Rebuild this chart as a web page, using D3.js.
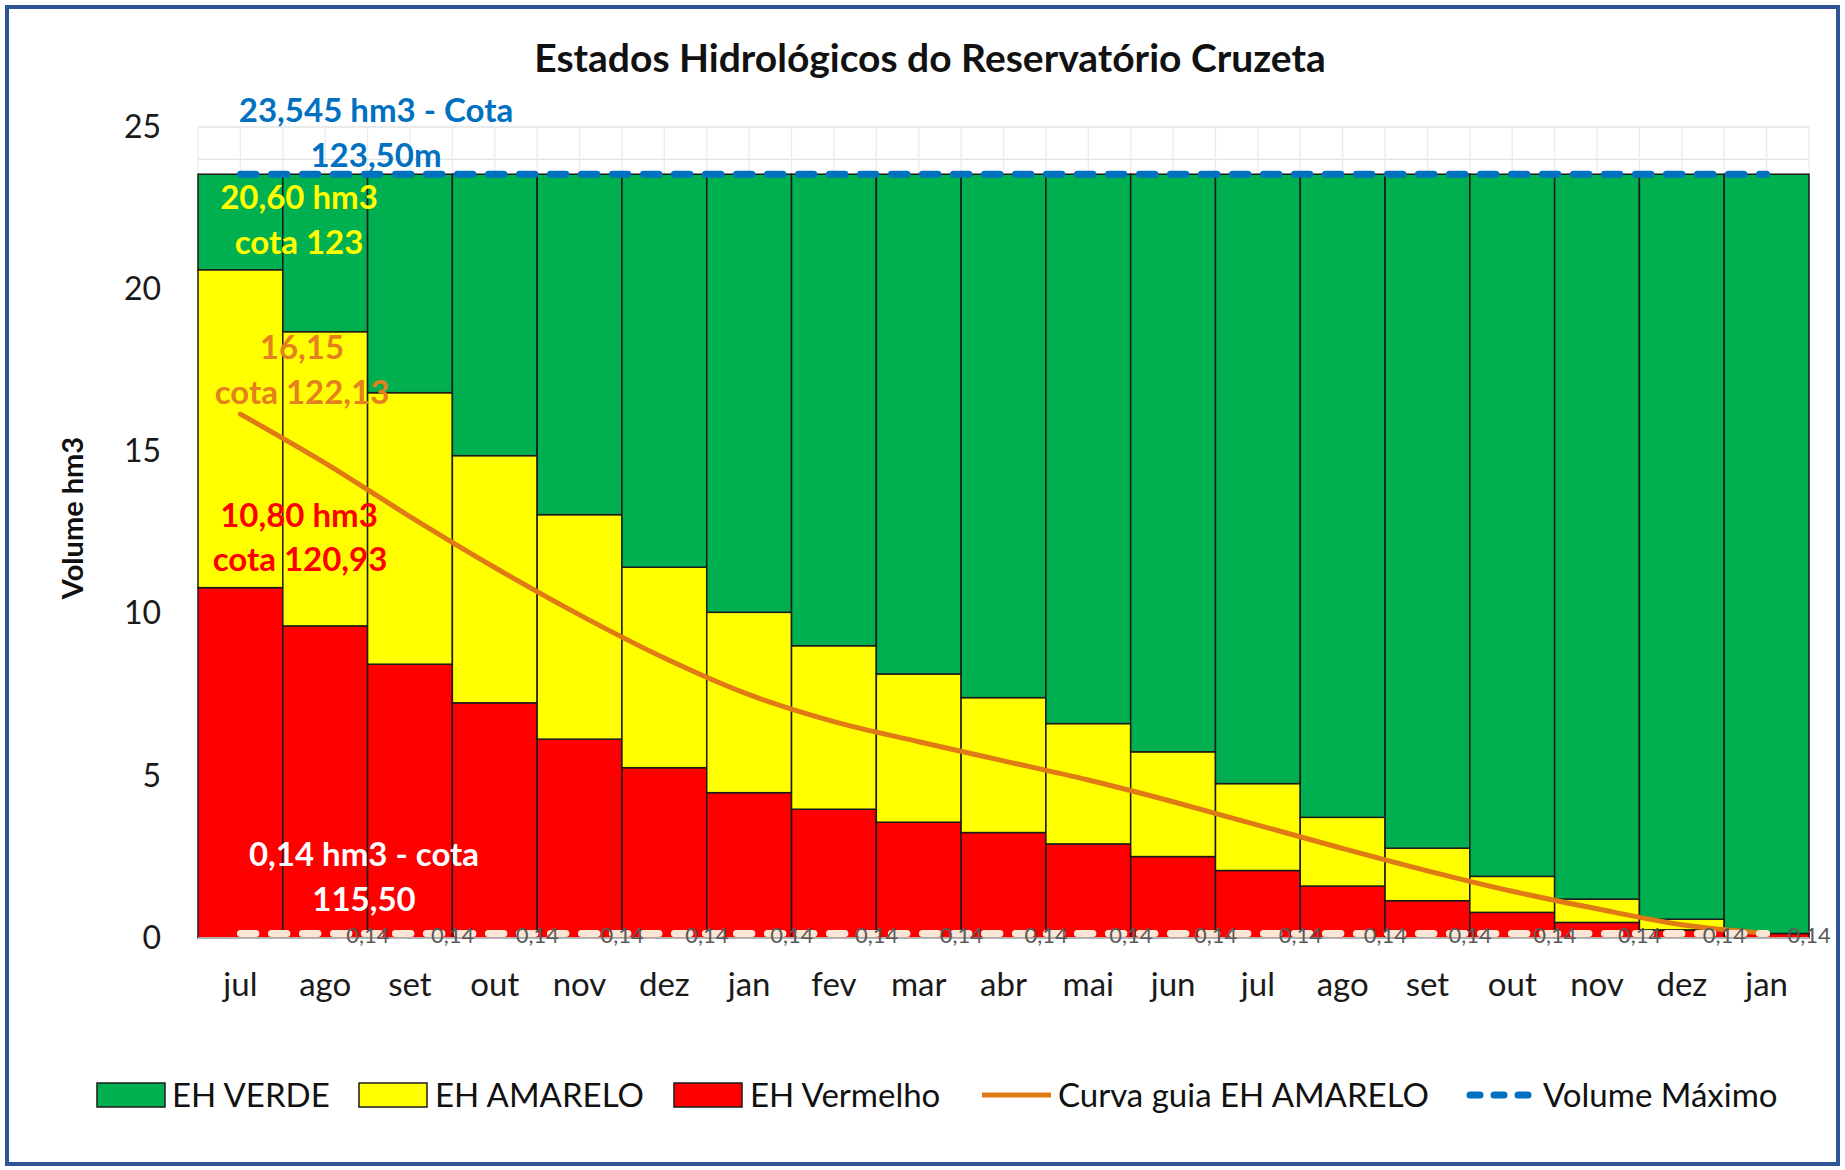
<!DOCTYPE html>
<html>
<head>
<meta charset="utf-8">
<script src="https://cdnjs.cloudflare.com/ajax/libs/d3/7.8.5/d3.min.js"></script>
<style>
  body { margin: 0; background: #fff; }
  svg { display: block; font-family: Lato, "Open Sans", sans-serif; }
</style>
</head>
<body>
<div class="chart"></div>
<script>
// meses do período
var meses = ["jul", "ago", "set", "out", "nov", "dez", "jan", "fev", "mar", "abr",
             "mai", "jun", "jul", "ago", "set", "out", "nov", "dez", "jan"];

// limites dos estados hidrológicos (hm3)
var volumeMaximo = [23.545, 23.545, 23.545, 23.545, 23.545, 23.545, 23.545, 23.545, 23.545, 23.545,
                    23.545, 23.545, 23.545, 23.545, 23.545, 23.545, 23.545, 23.545, 23.545];
var limiteAmarelo = [20.60, 18.69, 16.81, 14.87, 13.05, 11.43, 10.04, 9.01, 8.14, 7.41,
                     6.61, 5.74, 4.76, 3.72, 2.77, 1.90, 1.20, 0.58, 0.14];
var limiteVermelho = [10.80, 9.62, 8.44, 7.25, 6.13, 5.25, 4.48, 3.97, 3.57, 3.25,
                      2.90, 2.51, 2.08, 1.60, 1.15, 0.79, 0.48, 0.25, 0.14];
var curvaGuia = [16.15, 14.64, 12.99, 11.42, 9.96, 8.63, 7.50, 6.67, 6.05, 5.46,
                 4.87, 4.20, 3.48, 2.76, 2.07, 1.44, 0.90, 0.41, 0.14];
var volumeMinimo = [0.14, 0.14, 0.14, 0.14, 0.14, 0.14, 0.14, 0.14, 0.14, 0.14,
                    0.14, 0.14, 0.14, 0.14, 0.14, 0.14, 0.14, 0.14, 0.14];
var yTicks = [0, 5, 10, 15, 20, 25];
var gridTicks = d3.range(0, 26, 1);

var width = 1845, height = 1170;
var plot = { left: 198, right: 1809, top: 127, bottom: 938 };

var svg = d3.select(".chart")
    .append("svg")
    .attr("width", width)
    .attr("height", height);

// borda externa
svg.append("rect")
    .attr("x", 7).attr("y", 7)
    .attr("width", 1831).attr("height", 1157)
    .attr("fill", "#fff")
    .attr("stroke", "#2F5597")
    .attr("stroke-width", 4);

var idx = d3.range(meses.length);

var x = d3.scaleBand()
    .domain(idx)
    .range([plot.left, plot.right])
    .padding(0);

var y = d3.scaleLinear()
    .domain([0, 25])
    .range([plot.bottom, plot.top]);

var cx = function(i) { return x(i) + x.bandwidth() / 2; };

// grade
svg.append("g")
    .selectAll("line")
    .data(gridTicks)
    .enter().append("line")
    .attr("x1", plot.left).attr("x2", plot.right)
    .attr("y1", function(d) { return y(d); })
    .attr("y2", function(d) { return y(d); })
    .attr("stroke", "#E3E3E3")
    .attr("stroke-width", 1.3);

svg.append("g")
    .selectAll("line")
    .data(d3.range(meses.length * 2 + 1))
    .enter().append("line")
    .attr("x1", function(d) { return plot.left + d * x.bandwidth() / 2; })
    .attr("x2", function(d) { return plot.left + d * x.bandwidth() / 2; })
    .attr("y1", y(25)).attr("y2", y(0))
    .attr("stroke", "#EBEBEB")
    .attr("stroke-width", 1.3);

// barras empilhadas
var tabela = idx.map(function(i) {
  return {
    i: i,
    vermelho: limiteVermelho[i],
    amarelo: limiteAmarelo[i] - limiteVermelho[i],
    verde: volumeMaximo[i] - limiteAmarelo[i]
  };
});
var cores = { vermelho: "#FF0000", amarelo: "#FFFF00", verde: "#00B050" };
var stack = d3.stack().keys(["vermelho", "amarelo", "verde"]);

svg.append("g")
    .selectAll("g")
    .data(stack(tabela))
    .enter().append("g")
    .attr("fill", function(s) { return cores[s.key]; })
    .selectAll("rect")
    .data(function(s) { return s; })
    .enter().append("rect")
    .attr("x", function(d) { return x(d.data.i); })
    .attr("width", x.bandwidth())
    .attr("y", function(d) { return y(d[1]); })
    .attr("height", function(d) { return y(d[0]) - y(d[1]); })
    .attr("stroke", "#1b1b1b")
    .attr("stroke-width", 1.5);

// eixo x (linha)
svg.append("line")
    .attr("x1", plot.left).attr("x2", plot.right)
    .attr("y1", y(0)).attr("y2", y(0))
    .attr("stroke", "#D9D9D9")
    .attr("stroke-width", 1.5);

// curva guia
var linha = d3.line()
    .x(function(d, i) { return cx(i); })
    .y(function(d) { return y(d); })
    .curve(d3.curveCatmullRom.alpha(0.5));

svg.append("path")
    .datum(curvaGuia)
    .attr("d", linha)
    .attr("fill", "none")
    .attr("stroke", "#DF7A14")
    .attr("stroke-width", 5)
    .attr("stroke-linecap", "round");

var linhaReta = d3.line()
    .x(function(d, i) { return cx(i); })
    .y(function(d) { return y(d); });

// volume minimo
svg.append("path")
    .datum(volumeMinimo)
    .attr("d", linhaReta)
    .attr("fill", "none")
    .attr("stroke", "#FBE6D5")
    .attr("stroke-width", 7)
    .attr("stroke-linecap", "round")
    .attr("stroke-dasharray", "15.5 15.5");

// volume maximo
svg.append("path")
    .datum(volumeMaximo)
    .attr("d", linhaReta)
    .attr("fill", "none")
    .attr("stroke", "#0070C0")
    .attr("stroke-width", 7)
    .attr("stroke-linecap", "round")
    .attr("stroke-dasharray", "15.5 15.5");

// rotulos 0,14
svg.append("g")
    .selectAll("text")
    .data(volumeMinimo.slice(1))
    .enter().append("text")
    .attr("x", function(d, i) { return cx(i + 1) + 21; })
    .attr("y", function(d) { return y(d) + 2; })
    .attr("dy", "0.36em")
    .attr("font-size", 22)
    .attr("fill", "#595959")
    .text(function(d) { return d3.format(".2f")(d).replace(".", ","); });

// eixos
var yAxis = svg.append("g")
    .attr("transform", "translate(" + plot.left + ",0)")
    .call(d3.axisLeft(y).tickValues(yTicks).tickSize(0).tickPadding(37));
yAxis.select(".domain").remove();
yAxis.selectAll("text")
    .attr("font-family", "Lato, sans-serif")
    .attr("font-size", 32)
    .attr("fill", "#1a1a1a");

var xAxis = svg.append("g")
    .attr("transform", "translate(0," + plot.bottom + ")")
    .call(d3.axisBottom(x).tickFormat(function(i) { return meses[i]; }).tickSize(0));
xAxis.select(".domain").remove();
xAxis.selectAll("text")
    .attr("y", 50)
    .attr("dy", null)
    .attr("dominant-baseline", "middle")
    .attr("font-family", "Lato, sans-serif")
    .attr("font-size", 33)
    .attr("fill", "#1a1a1a");

// titulo
svg.append("text")
    .attr("x", 930).attr("y", 58)
    .attr("dy", "0.36em")
    .attr("text-anchor", "middle")
    .attr("font-size", 39)
    .attr("font-weight", "bold")
    .attr("fill", "#111")
    .text("Estados Hidrológicos do Reservatório Cruzeta");

svg.append("text")
    .attr("transform", "translate(73,518) rotate(-90)")
    .attr("dy", "0.36em")
    .attr("text-anchor", "middle")
    .attr("font-size", 29)
    .attr("font-weight", "bold")
    .attr("fill", "#111")
    .text("Volume hm3");

// anotacoes
var notas = [
  { t: "23,545 hm3 - Cota", x: 376, y: 110, c: "#0070C0" },
  { t: "123,50m", x: 376, y: 155, c: "#0070C0" },
  { t: "20,60 hm3", x: 299, y: 197, c: "#FFFF00" },
  { t: "cota 123", x: 299, y: 242, c: "#FFFF00" },
  { t: "16,15", x: 302, y: 347, c: "#E5801E" },
  { t: "cota 122,13", x: 302, y: 392, c: "#E5801E" },
  { t: "10,80 hm3", x: 299, y: 515, c: "#FF0000" },
  { t: "cota 120,93", x: 300, y: 559, c: "#FF0000" },
  { t: "0,14 hm3 - cota", x: 364, y: 854, c: "#FFFFFF" },
  { t: "115,50", x: 364, y: 899, c: "#FFFFFF" }
];
svg.append("g")
    .selectAll("text")
    .data(notas)
    .enter().append("text")
    .attr("x", function(d) { return d.x; })
    .attr("y", function(d) { return d.y; })
    .attr("dy", "0.36em")
    .attr("text-anchor", "middle")
    .attr("font-size", 33)
    .attr("font-weight", "bold")
    .attr("fill", function(d) { return d.c; })
    .text(function(d) { return d.t; });

// legenda
var legY = 1095;
var leg = svg.append("g").attr("font-size", 33).attr("fill", "#111");
var caixas = [
  { x: 97, cor: "#00B050", t: "EH VERDE", tx: 172 },
  { x: 359, cor: "#FFFF00", t: "EH AMARELO", tx: 435 },
  { x: 674, cor: "#FF0000", t: "EH Vermelho", tx: 750 }
];
caixas.forEach(function(c) {
  leg.append("rect")
      .attr("x", c.x).attr("y", legY - 12)
      .attr("width", 68).attr("height", 24)
      .attr("fill", c.cor)
      .attr("stroke", "#1b1b1b")
      .attr("stroke-width", 1.5);
  leg.append("text")
      .attr("x", c.tx).attr("y", legY)
      .attr("dy", "0.36em")
      .text(c.t);
});
leg.append("line")
    .attr("x1", 982).attr("x2", 1051)
    .attr("y1", legY).attr("y2", legY)
    .attr("stroke", "#DF7A14")
    .attr("stroke-width", 5);
leg.append("text")
    .attr("x", 1058).attr("y", legY)
    .attr("dy", "0.36em")
    .text("Curva guia EH AMARELO");
leg.append("line")
    .attr("x1", 1470).attr("x2", 1532)
    .attr("y1", legY).attr("y2", legY)
    .attr("stroke", "#0070C0")
    .attr("stroke-width", 7)
    .attr("stroke-linecap", "round")
    .attr("stroke-dasharray", "10 14");
leg.append("text")
    .attr("x", 1543).attr("y", legY)
    .attr("dy", "0.36em")
    .text("Volume Máximo");
</script>
</body>
</html>
